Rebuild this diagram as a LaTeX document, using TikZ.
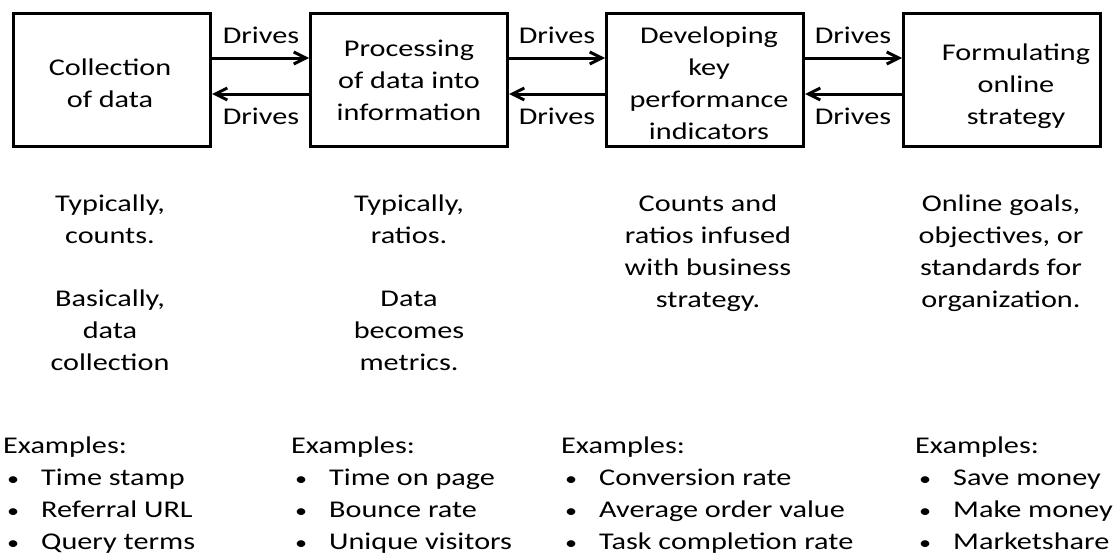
\documentclass[tikz,border=0pt]{standalone}
\usepackage{fontspec}
\setmainfont{Carlito}[FakeStretch=1.26]
\usetikzlibrary{arrows.meta}
\begin{document}
\begin{tikzpicture}[x=1pt,y=-1pt,
  font={\fontsize{24}{32}\selectfont},
  stage/.style={draw,line width=3pt,minimum width=197pt,minimum height=133pt,inner sep=0pt},
  lbl/.style={anchor=base,align=center,inner sep=0pt},
  lst/.style={anchor=base west,align=left,inner sep=0pt},
  arr/.style={line width=3pt,-{Straight Barb[length=12pt,width=12pt]}}]
\useasboundingbox (0,0) rectangle (1114,554);
\newcommand{\itm}{\makebox[38pt][l]{\hspace{4pt}\scalebox{0.8}{•}}}
% stage boxes
\node[stage] (b1) at (112,79.5) {};
\node[stage] (b2) at (409,79.5) {};
\node[stage] (b3) at (705,79.5) {};
\node[stage] (b4) at (1002,79.5) {};
% box titles (placed by the baseline of their last line)
\node[lbl] (t1) at (110,107) {Collection\\of data};
\node[lbl] (t2) at (409,120) {Processing\\of data into\\information};
\node[lbl] (t3) at (709,139) {Developing\\key\\performance\\indicators};
\node[lbl] (t4) at (1016,124) {Formulating\\online\\strategy};
% forward and backward links
\foreach \a/\b in {b1/b2,b2/b3,b3/b4}{
  \draw[arr] ([yshift=21.5pt]\a.east) -- ([yshift=21.5pt]\b.west);
  \draw[arr] ([yshift=-14.5pt]\b.west) -- ([yshift=-14.5pt]\a.east);
}
\foreach \x/\n in {261/1,557/2,853/3}{
  \node[lbl] (up\n) at (\x,43) {Drives};
  \node[lbl] (dn\n) at (\x,124) {Drives};
}
% descriptions
\node[lbl] (d1a) at (110,243) {Typically,\\counts.};
\node[lbl] (d1b) at (110,370) {Basically,\\data\\collection};
\node[lbl] (d2a) at (409,243) {Typically,\\ratios.};
\node[lbl] (d2b) at (409,370) {Data\\becomes\\metrics.};
\node[lbl] (d3) at (708,307) {Counts and\\ratios infused\\with business\\strategy.};
\node[lbl] (d4) at (1001,307) {Online goals,\\objectives, or\\standards for\\organization.};
% examples
\node[lst] (e1) at (3,549) {Examples:\\\itm Time stamp\\\itm Referral URL\\\itm Query terms};
\node[lst] (e2) at (291,549) {Examples:\\\itm Time on page\\\itm Bounce rate\\\itm Unique visitors};
\node[lst] (e3) at (561,549) {Examples:\\\itm Conversion rate\\\itm Average order value\\\itm Task completion rate};
\node[lst] (e4) at (915,549) {Examples:\\\itm Save money\\\itm Make money\\\itm Marketshare};
\end{tikzpicture}
\end{document}
